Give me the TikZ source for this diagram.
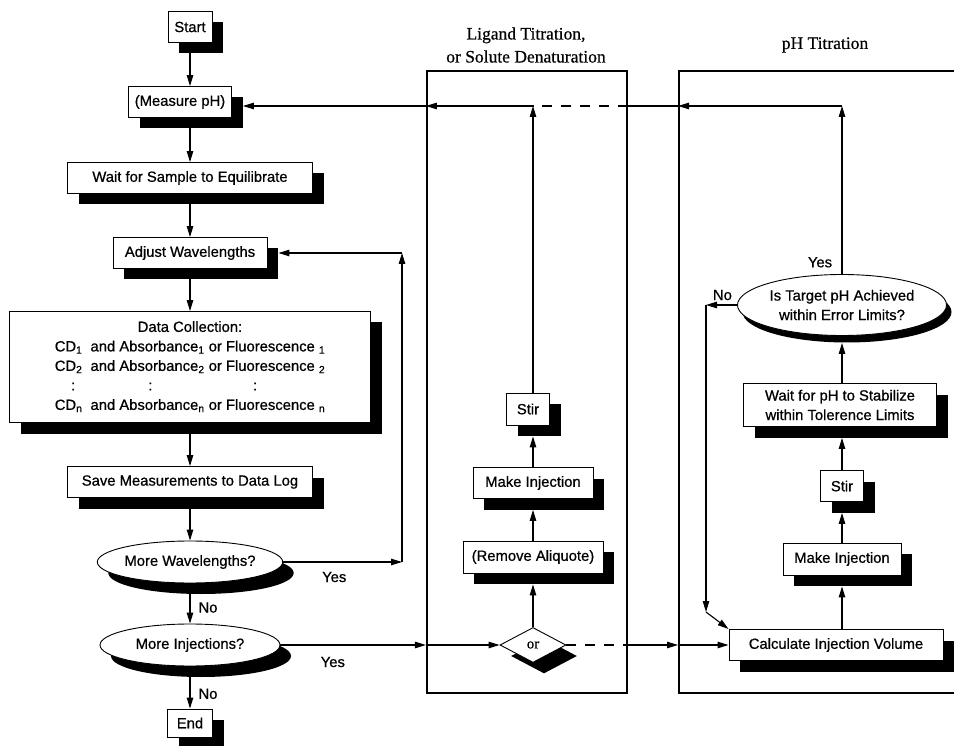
\documentclass[tikz,border=0pt]{standalone}
\usepackage{fontspec}
\setmainfont{Liberation Sans}[FakeBold=0.7]
\newfontfamily\serifhead{Liberation Serif}[FakeBold=0.5]
\usetikzlibrary{shapes.geometric, shadows, arrows.meta, calc}

\begin{document}
\begin{tikzpicture}[
x=1pt, y=-1pt,
font=\fontsize{14.8}{19.5}\selectfont,
>={Triangle[length=11pt, width=6.5pt]},
shadowbig/.style={drop shadow={shadow xshift=11pt, shadow yshift=-11pt, fill=black, opacity=1}},
shadowsmall/.style={drop shadow={shadow xshift=5pt, shadow yshift=-7pt, fill=black, opacity=1}},
box/.style={rectangle, draw=black, line width=0.9pt, fill=white, inner sep=2pt, minimum height=31pt, shadowbig},
oval/.style={ellipse, draw=black, line width=0.9pt, fill=white, inner sep=0pt},
choice/.style={diamond, draw=black, line width=0.9pt, fill=white, inner sep=0pt, shadowbig},
group/.style={rectangle, draw=black, line width=2.2pt},
head/.style={font=\serifhead\fontsize{17.5}{23}\selectfont, align=center},
link/.style={line width=1.1pt},
broken/.style={dash pattern=on 10pt off 9pt}
]
\useasboundingbox (0,0) rectangle (954,746);
%Groups
\node[group, minimum width=200pt, minimum height=622pt]             (lig)  at (527,382) {};
\node[group, minimum width=290pt, minimum height=622pt, anchor=west] (ph)   at (678,382) {};
\node[head]  (ligtitle)  at (526,45)  {Ligand Titration,\\or Solute Denaturation};
\node[head]  (phtitle)   at (825,45)  {pH Titration};
%Nodes
\node[box, minimum width=44pt]   (start) at (190,27)  {Start};
\node[box, minimum width=103pt]  (meas)  at (180,102) {(Measure pH)};
\node[box, minimum width=245pt]  (wait)  at (190,178) {Wait for Sample to Equilibrate};
\node[box, minimum width=154pt]  (adj)   at (190,253) {Adjust Wavelengths};
\node[box, minimum width=361pt, minimum height=111pt] (coll) at (190,367) {%
  \begin{tabular}{@{}c@{}}
  Data Collection:\\
  \begin{tabular}{@{}l@{\hspace{0.55em}}l@{\ }l@{}}
  CD\textsubscript{1} & and Absorbance\textsubscript{1} & or Fluorescence \textsubscript{1}\\
  CD\textsubscript{2} & and Absorbance\textsubscript{2} & or Fluorescence \textsubscript{2}\\
  \hspace{1.1em}: & \hspace{3.9em}: & \hspace{3em}:\\
  CD\textsubscript{n} & and Absorbance\textsubscript{n} & or Fluorescence \textsubscript{n}
  \end{tabular}
  \end{tabular}};
\node[box, minimum width=245pt]  (save)  at (190,482) {Save Measurements to Data Log};
\node[oval, shadowbig, minimum width=180pt, minimum height=42pt] (wave) at (190,562) {More Wavelengths?};
\node[oval, shadowbig, minimum width=180pt, minimum height=42pt] (inj)  at (190,645) {More Injections?};
\node[box, minimum width=45pt, minimum height=28pt] (stop) at (190,723) {End};
% ligand column
\node[box, minimum width=43pt, minimum height=32pt]  (lstir) at (528,409) {Stir};
\node[box, minimum width=120pt]                      (linj)  at (533,483) {Make Injection};
\node[box, minimum width=140pt, minimum height=32pt] (lrem)  at (533,557) {(Remove Aliquote)};
\node[choice, minimum width=66pt, minimum height=35pt] (lor) at (533,645) {\serifhead or};
% pH column
\node[box, minimum width=214pt]                      (cvol)  at (836,645) {Calculate Injection Volume};
\node[box, minimum width=118pt, minimum height=32pt] (pinj)  at (842,559) {Make Injection};
\node[box, minimum width=43pt]                       (pstir) at (842,486) {Stir};
\node[box, minimum width=193pt, minimum height=43pt, align=center] (pwait) at (840,405) {Wait for pH to Stabilize\\within Tolerence Limits};
\node[oval, shadowsmall, minimum width=209pt, minimum height=61pt, align=center] (ptgt) at (842,305) {Is Target pH Achieved\\within Error Limits?};
\coordinate (ret)  at (842,106);
\coordinate (lret) at (533,106);
\coordinate (wr)   at (402,562);
\coordinate (nb)   at (706,612);
%Lines
\draw[link,->] (start) -- (start |- meas.north);
\draw[link,->] (wait |- meas.south) -- (wait.north);
\draw[link,->] (wait) -- (adj);
\draw[link,->] (adj) -- (coll);
\draw[link,->] (coll) -- (save);
\draw[link,->] (save) -- (wave);
\draw[link,->] (wave) -- (inj) node[pos=0.6, xshift=18pt] {No};
\draw[link,->] (inj) -- (stop) node[pos=0.65, xshift=18pt] {No};
\draw[link,->] (wave.east) -- (wr) node[pos=0.43, yshift=-15pt] {Yes};
\draw[link,->] (wr) -- (wr |- adj);
\draw[link,->] (wr |- adj) -- ($(adj.east)+(11,0)$);
\draw[link,->] (inj.east) -- (inj -| lig.west) node[pos=0.36, yshift=-17pt] {Yes};
\draw[link,->] (inj -| lig.west) -- (lor.west);
\draw[link,broken] (lor.east) -- (lor -| lig.east);
\draw[link,->] (lor -| lig.east) -- (lor -| ph.west);
\draw[link,->] (lor -| ph.west) -- (cvol.west);
\draw[link,->] (lor.north) -- ($(lrem.south)+(0,11)$);
\draw[link,->] (lrem.north) -- ($(linj.south)+(0,11)$);
\draw[link,->] (linj.north) -- ($(lstir.south -| linj)+(0,11)$);
\draw[link,->] (lstir.north -| linj) -- (lret);
\draw[link,->] (cvol.north -| pinj) -- ($(pinj.south)+(0,11)$);
\draw[link,->] (pinj.north) -- ($(pstir.south)+(0,11)$);
\draw[link,->] (pstir.north) -- ($(pwait.south -| pstir)+(0,11)$);
\draw[link,->] (pwait.north -| pstir) -- ($(ptgt.south)+(0,7)$);
\draw[link,->] (ptgt.north) -- (ret) node[pos=0.07, xshift=-22pt] {Yes};
\draw[link,->] (ptgt.west) -- (nb |- ptgt.west) node[pos=0.47, yshift=10pt] {No};
\draw[link,->] (nb |- ptgt.west) -- (nb);
\draw[link,->] (nb) -- (cvol.north west);
\draw[link,->] (ret) -- (ret -| ph.west);
\draw[link] (ret -| ph.west) -- (ret -| lig.east);
\draw[link,broken] (ret -| lig.east) -- (lret);
\draw[link,->] (lret) -- (lret -| lig.west);
\draw[link,->] (lret -| lig.west) -- ($(meas.east |- lret)+(11,0)$);
\end{tikzpicture}
\end{document}
